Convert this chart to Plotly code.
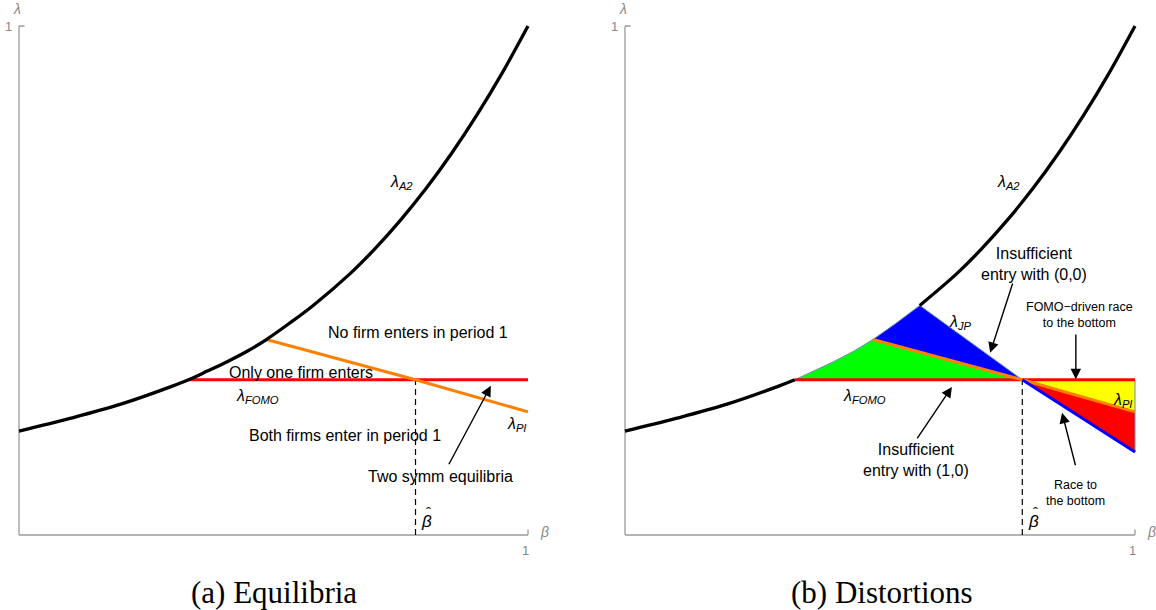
import plotly.graph_objects as go

# ---------------- data ----------------
beta_a2 = [0.0, 0.1, 0.2, 0.3, 0.333, 0.37, 0.41, 0.45, 0.486, 0.53, 0.578, 0.65, 0.7, 0.75, 0.8, 0.85, 0.9, 0.95, 1.0]
lam_a2 = [0.204, 0.229, 0.257, 0.292, 0.305, 0.322, 0.341, 0.362, 0.384, 0.415, 0.451, 0.513, 0.563, 0.619, 0.681, 0.750, 0.826, 0.909, 1.0]

beta_fomo = [0.333, 1.0]
lam_fomo = [0.305, 0.305]

beta_pi = [0.486, 0.779, 1.0]
lam_pi = [0.384, 0.305, 0.242]

beta_jp = [0.578, 0.779, 1.0]
lam_jp = [0.451, 0.305, 0.163]

beta_hat = 0.779

captions = ["(a) Equilibria", "(b) Distortions"]

# ---------------- layout geometry ----------------
W, H = 1156, 610
XR = [-0.01, 1.01]
YR = [-0.01, 1.03]


def xdom(p0, p1):
    s = p1 - p0
    return [(p0 + XR[0] * s) / W, (p0 + XR[1] * s) / W]


def ydom(p0, p1):
    s = p0 - p1
    return [1 - (p0 - YR[0] * s) / H, 1 - (p0 - YR[1] * s) / H]


SANS = "Liberation Sans, Arial, sans-serif"
SERIF = "Liberation Serif, Times New Roman, serif"
AXC = "#9a9a9a"
EDGE = "#6a8cc0"

fig = go.Figure()


def line(xs, ys, color, width, ax, dash=None, shape="linear"):
    fig.add_trace(go.Scatter(x=xs, y=ys, mode="lines",
                             line=dict(color=color, width=width, dash=dash, shape=shape),
                             xaxis=ax[0], yaxis=ax[1], hoverinfo="skip"))


def poly(xs, ys, fill, ax):
    fig.add_trace(go.Scatter(x=xs, y=ys, mode="lines", fill="toself", fillcolor=fill,
                             line=dict(color=EDGE, width=1),
                             xaxis=ax[0], yaxis=ax[1], hoverinfo="skip"))


A = ("x", "y")
B = ("x2", "y2")
lam_hat = lam_pi[1]

# ---------- panel (a) ----------
line([beta_hat, beta_hat], [0, lam_hat], "black", 1.2, A, dash="6px,4px")
line(beta_fomo, lam_fomo, "#ff0000", 3, A)
line(beta_pi, lam_pi, "#ff8000", 3, A)
line(beta_a2, lam_a2, "black", 3.3, A, shape="spline")

# ---------- panel (b) ----------
lo_b = [b for b in beta_a2 if b <= beta_fomo[0]]
lo_l = [l for b, l in zip(beta_a2, lam_a2) if b <= beta_fomo[0]]
hi_b = [b for b in beta_a2 if b >= beta_jp[0]]
hi_l = [l for b, l in zip(beta_a2, lam_a2) if b >= beta_jp[0]]

# green region
g_b = [b for b in beta_a2 if beta_fomo[0] <= b <= beta_pi[0]]
g_l = [l for b, l in zip(beta_a2, lam_a2) if beta_fomo[0] <= b <= beta_pi[0]]
poly(g_b + [beta_pi[1], beta_fomo[0]], g_l + [lam_pi[1], lam_fomo[0]], "#00ff00", B)
# blue region
u_b = [b for b in beta_a2 if beta_pi[0] <= b <= beta_jp[0]]
u_l = [l for b, l in zip(beta_a2, lam_a2) if beta_pi[0] <= b <= beta_jp[0]]
poly(u_b + [beta_jp[1], beta_pi[0]], u_l + [lam_jp[1], lam_pi[0]], "#0000ff", B)
# yellow region
poly([beta_hat, beta_fomo[1], beta_pi[2], beta_hat], [lam_hat, lam_fomo[1], lam_pi[2], lam_hat], "#ffff00", B)
# red region
poly([beta_hat, beta_pi[2], beta_jp[2], beta_hat], [lam_hat, lam_pi[2], lam_jp[2], lam_hat], "#ff0000", B)

line([beta_hat, beta_hat], [0, lam_hat], "black", 1.2, B, dash="6px,4px")
line(beta_fomo, lam_fomo, "#ff0000", 3, B)
line(beta_pi, lam_pi, "#ff8000", 3, B)
line(beta_jp[1:], lam_jp[1:], "#0000ff", 3, B)
line(lo_b, lo_l, "black", 3.3, B, shape="spline")
line(hi_b, hi_l, "black", 3.3, B, shape="spline")

# ---------- axes drawn as lines in data coords ----------
shapes = []
for xr, yr in [("x", "y"), ("x2", "y2")]:
    for (x0, y0, x1, y1) in [(0, 0, 1, 0), (0, 0, 0, 1), (0, 1, 0.011, 1), (1, 0, 1, 0.011)]:
        shapes.append(dict(type="line", xref=xr, yref=yr, x0=x0, y0=y0, x1=x1, y1=y1,
                           line=dict(color=AXC, width=1.3), layer="below"))

ann = []


def txt(x, y, t, ax, size=16, color="black", font=SANS, **kw):
    d = dict(x=x, y=y, xref=ax[0], yref=ax[1], text=t, showarrow=False,
             xanchor="center", yanchor="middle",
             font=dict(family=font, size=size, color=color))
    d.update(kw)
    ann.append(d)


def arrow(tx, ty, hx, hy, ax):
    ann.append(dict(x=hx, y=hy, ax=tx, ay=ty, xref=ax[0], yref=ax[1], axref=ax[0], ayref=ax[1],
                    text="", showarrow=True, arrowhead=2, arrowsize=1.5, arrowwidth=1.4,
                    arrowcolor="black", standoff=0, startstandoff=0))


for ax in (A, B):
    txt(0, 1, "1", ax, size=13, color="#888888", xanchor="right", xshift=-5)
    txt(0, 1, "<i>λ</i>", ax, size=14, color="#888888", yshift=17, xshift=-2)
    txt(1, 0, "1", ax, size=13, color="#888888", yanchor="top", yshift=-6, xshift=-3)
    txt(1, 0, "<i>β</i>", ax, size=14, color="#888888", xanchor="left", xshift=10, yshift=3)
    txt(0.752, 0.692, "<i>λ<sub>A2</sub></i>", ax)
    txt(0.469, 0.272, "<i>λ<sub>FOMO</sub></i>", ax)
    txt(0.800, 0.026, "<i>β</i>", ax, size=17)
    txt(0.800, 0.026, "ˆ", ax, size=15, xshift=2, yshift=9)

# panel a labels
txt(0.784, 0.397, "No firm enters in period 1", A)
txt(0.554, 0.320, "Only one firm enters", A)
txt(0.640, 0.196, "Both firms enter in period 1", A)
txt(0.978, 0.218, "<i>λ<sub>PI</sub></i>", A)
txt(0.829, 0.114, "Two symm equilibria", A)
arrow(0.843, 0.136, 0.927, 0.293, A)

# panel b labels
txt(0.657, 0.417, "<i>λ<sub>JP</sub></i>", B)
txt(0.976, 0.265, "<i>λ<sub>PI</sub></i>", B)
txt(0.802, 0.532, "Insufficient<br>entry with (0,0)", B)
arrow(0.761, 0.497, 0.716, 0.358, B)
txt(0.892, 0.432, "FOMO−driven race<br>to the bottom", B, size=12.5)
arrow(0.884, 0.397, 0.884, 0.306, B)
txt(0.571, 0.147, "Insufficient<br>entry with (1,0)", B)
arrow(0.571, 0.187, 0.641, 0.291, B)
txt(0.884, 0.083, "Race to<br>the bottom", B, size=12.5)
arrow(0.884, 0.134, 0.857, 0.240, B)

# captions
for cx, cap in zip([273.5, 882], captions):
    ann.append(dict(x=cx / W, y=1 - 592 / H, xref="paper", yref="paper", text=cap,
                    xanchor="center", yanchor="middle", showarrow=False,
                    font=dict(family=SERIF, size=31, color="black")))

axis_common = dict(visible=False, showgrid=False, zeroline=False, fixedrange=True)
fig.update_layout(
    width=W, height=H, autosize=False,
    margin=dict(l=0, r=0, t=0, b=0, pad=0),
    paper_bgcolor="white", plot_bgcolor="white",
    showlegend=False,
    xaxis=dict(domain=xdom(19, 528), range=XR, **axis_common),
    yaxis=dict(domain=ydom(535, 26), range=YR, **axis_common),
    xaxis2=dict(domain=xdom(625, 1135), range=XR, anchor="y2", **axis_common),
    yaxis2=dict(domain=ydom(535, 26), range=YR, anchor="x2", **axis_common),
    shapes=shapes, annotations=ann,
)

fig.write_html("out.html", config={"displayModeBar": False},
               post_script="document.body.style.margin='0px';document.body.style.overflow='hidden';")
